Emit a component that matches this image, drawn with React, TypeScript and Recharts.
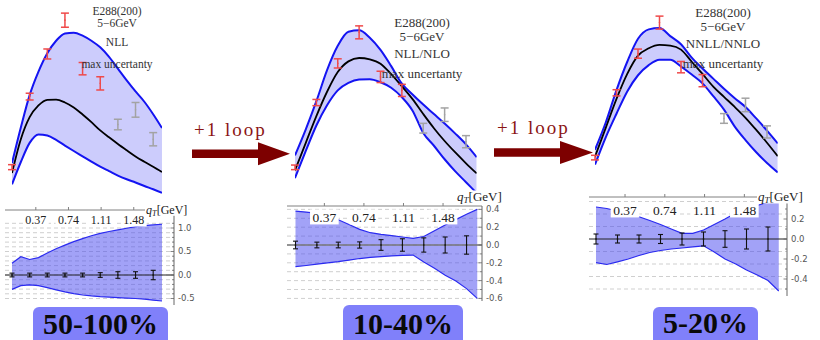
import React from 'react';
import {
  ComposedChart, Area, Line, Scatter, ErrorBar, XAxis, YAxis, CartesianGrid, ReferenceLine,
} from 'recharts';

// ---------------- data ----------------
const qGrid = [0.1, 0.2, 0.3, 0.4, 0.5, 0.6, 0.7, 0.8, 0.9, 1.0, 1.1, 1.2, 1.3, 1.4, 1.5, 1.6, 1.7, 1.8];
const qData = [0.1, 0.3, 0.5, 0.7, 0.9, 1.1, 1.3, 1.5, 1.7];
const e288Values = [0.19, 0.67, 0.96, 1.19, 0.86, 0.76, 0.48, 0.58, 0.38];
const e288Errors = [0.017, 0.023, 0.034, 0.048, 0.042, 0.045, 0.036, 0.05, 0.045];
const fittedCount = 6;

const nllUpper = [0.218, 0.46, 0.68, 0.84, 0.965, 1.05, 1.1, 1.105, 1.085, 1.05, 1.005, 0.94, 0.86, 0.78, 0.705, 0.635, 0.55, 0.456];
const nllCentral = [0.15, 0.38, 0.53, 0.61, 0.648, 0.65, 0.63, 0.596, 0.548, 0.496, 0.44, 0.393, 0.348, 0.305, 0.263, 0.227, 0.193, 0.157];
const nllLower = [0.073, 0.225, 0.355, 0.413, 0.405, 0.375, 0.337, 0.3, 0.264, 0.228, 0.193, 0.163, 0.133, 0.108, 0.086, 0.062, 0.04, 0.016];

const nloUpper = [0.279, 0.47, 0.68, 0.91, 1.09, 1.195, 1.205, 1.15, 1.06, 0.94, 0.81, 0.73, 0.655, 0.585, 0.515, 0.44, 0.36, 0.265];
const nloCentral = [0.168, 0.37, 0.57, 0.75, 0.896, 0.975, 1.0, 0.99, 0.958, 0.88, 0.79, 0.695, 0.585, 0.48, 0.385, 0.3, 0.22, 0.145];
const nloLower = [0.111, 0.31, 0.5, 0.65, 0.76, 0.815, 0.84, 0.843, 0.82, 0.78, 0.71, 0.61, 0.445, 0.35, 0.25, 0.16, 0.08, 0.0];

const nnloUpper = [0.249, 0.45, 0.69, 0.9, 1.07, 1.14, 1.15, 1.09, 1.03, 0.93, 0.85, 0.775, 0.7, 0.63, 0.565, 0.48, 0.39, 0.295];
const nnloCentral = [0.197, 0.41, 0.625, 0.81, 0.945, 1.0, 1.025, 1.02, 0.99, 0.9, 0.81, 0.716, 0.64, 0.565, 0.485, 0.395, 0.3, 0.2];
const nnloLower = [0.138, 0.34, 0.515, 0.68, 0.8, 0.875, 0.915, 0.915, 0.865, 0.805, 0.74, 0.645, 0.545, 0.42, 0.32, 0.23, 0.15, 0.08];

// relative uncertainty (bottom panels)
const nllRatioUpper = [0.25, 0.39, 0.33, 0.37, 0.47, 0.56, 0.635, 0.71, 0.775, 0.835, 0.887, 0.925, 0.96, 0.995, 1.03, 1.05, 1.065, 1.08];
const nllRatioLower = [-0.305, -0.225, -0.21, -0.225, -0.27, -0.315, -0.36, -0.395, -0.425, -0.445, -0.46, -0.47, -0.48, -0.49, -0.5, -0.515, -0.535, -0.553];
const nllRatioErr = [0.04, 0.04, 0.04, 0.04, 0.04, 0.05, 0.07, 0.07, 0.1];

const nloRatioUpper = [0.38, 0.37, 0.355, 0.32, 0.283, 0.23, 0.175, 0.138, 0.12, 0.105, 0.09, 0.075, 0.095, 0.16, 0.225, 0.285, 0.345, 0.4];
const nloRatioLower = [-0.243, -0.23, -0.215, -0.2, -0.187, -0.17, -0.152, -0.14, -0.13, -0.123, -0.117, -0.113, -0.19, -0.262, -0.34, -0.405, -0.49, -0.6];
const nloRatioErr = [0.043, 0.032, 0.032, 0.035, 0.06, 0.07, 0.08, 0.09, 0.103];

const nnloRatioUpper = [0.32, 0.305, 0.28, 0.255, 0.223, 0.185, 0.145, 0.1, 0.057, 0.057, 0.09, 0.145, 0.2, 0.26, 0.3, 0.335, 0.37, 0.405];
const nnloRatioLower = [-0.237, -0.255, -0.228, -0.2, -0.165, -0.135, -0.115, -0.1, -0.09, -0.078, -0.068, -0.13, -0.2, -0.25, -0.31, -0.36, -0.415, -0.52];
const nnloRatioErr = [0.05, 0.04, 0.04, 0.045, 0.06, 0.07, 0.083, 0.1, 0.12];

const qTicks = [0.37, 0.74, 1.11, 1.48];
const nllTickLabels = [-0.5, 0, 0.5, 1.0];
const nllMinorTicks = [-0.5, -0.4, -0.3, -0.2, -0.1, 0, 0.1, 0.2, 0.3, 0.4, 0.5, 0.6, 0.7, 0.8, 0.9, 1.0, 1.1];
const nloTickLabels = [-0.6, -0.4, -0.2, 0, 0.2, 0.4];
const nloMinorTicks = [-0.6, -0.5, -0.4, -0.3, -0.2, -0.1, 0, 0.1, 0.2, 0.3, 0.4];
const nnloTickLabels = [-0.4, -0.2, 0, 0.2];
const nnloMinorTicks = [-0.5, -0.4, -0.3, -0.2, -0.1, 0, 0.1, 0.2, 0.3];
const nnloGridValues = [-0.5, -0.375, -0.25, -0.125, 0.125, 0.25, 0.375];

const datasetLabel = 'E288(200)';
const energyLabel = '5\u22126GeV';
const orderLabels = ['NLL', 'NLL/NLO', 'NNLL/NNLO'];
const uncertaintyLabel = 'max uncertanty';
const accuracyLabels = ['50-100%', '10-40%', '5-20%'];
const loopLabel = '+1 loop';

// ---------------- styles ----------------
const SERIF = '"Liberation Serif", "Times New Roman", serif';
const SANS = '"DejaVu Sans", "Liberation Sans", sans-serif';
const RED = '#ef4a4a';
const GRAY = '#a3a3a3';
const EDGE = '#1414f2';
const ARROW = '#7d0000';

const M = 10;

function tinyDot(color: string) {
  return (props: any) => <circle cx={props.cx} cy={props.cy} r={0.8} fill={color} />;
}

type TopProps = {
  x0: number; x1: number; yTop: number; yBot: number; yDom: number[];
  upper: number[]; central: number[]; lower: number[];
};

function TopPanel({ x0, x1, yTop, yBot, yDom, upper, central, lower }: TopProps) {
  const data = qGrid.map((q, i) => ({ q, band: [lower[i], upper[i]], up: upper[i], mid: central[i], lo: lower[i] }));
  const pts = qData.map((q, i) => ({ q, v: e288Values[i], err: e288Errors[i] }));
  const red = pts.slice(0, fittedCount);
  const gray = pts.slice(fittedCount);
  const w = x1 - x0;
  const h = yBot - yTop;
  return (
    <div style={{ position: 'absolute', left: x0 - M, top: yTop - M }}>
      <ComposedChart width={w + 2 * M} height={h + 2 * M} data={data} margin={{ top: M, right: M, bottom: M, left: M }}>
        <XAxis dataKey="q" type="number" domain={[0.1, 1.8]} hide allowDataOverflow />
        <YAxis type="number" domain={yDom} hide allowDataOverflow />
        <Area dataKey="band" type="monotone" fill="#0000f0" fillOpacity={0.2} stroke="none" isAnimationActive={false} />
        <Line dataKey="up" type="monotone" stroke={EDGE} strokeWidth={2} dot={false} activeDot={false} isAnimationActive={false} />
        <Line dataKey="lo" type="monotone" stroke={EDGE} strokeWidth={2} dot={false} activeDot={false} isAnimationActive={false} />
        <Line dataKey="mid" type="monotone" stroke="#000" strokeWidth={1.8} dot={false} activeDot={false} isAnimationActive={false} />
        <Scatter data={red} dataKey="v" shape={tinyDot(RED)} isAnimationActive={false}>
          <ErrorBar dataKey="err" direction="y" width={4} stroke={RED} strokeWidth={1.5} />
        </Scatter>
        <Scatter data={gray} dataKey="v" shape={tinyDot(GRAY)} isAnimationActive={false}>
          <ErrorBar dataKey="err" direction="y" width={4} stroke={GRAY} strokeWidth={1.5} />
        </Scatter>
      </ComposedChart>
    </div>
  );
}

// chart margins for the ratio panels; axes take 1px each
const BM = { top: 7, right: 29, bottom: 6, left: 4 };
const AX = 1;

function makeTopTick(labelDy: number, fontSize: number) {
  return (props: any) => {
    const { x, payload } = props;
    const y = BM.top + AX + labelDy;
    const text = Number(payload.value).toFixed(2);
    const w = fontSize * 1.9;
    return (
      <g>
        <rect x={x - w / 2 - 1.5} y={y - fontSize * 0.55} width={w + 3} height={fontSize * 1.1} fill="#fff" />
        <text x={x} y={y} dy="0.35em" textAnchor="middle" fontSize={fontSize} fontFamily={SERIF} fill="#222">{text}</text>
      </g>
    );
  };
}

function makeRightTick(majors: number[], axisX: number) {
  return (props: any) => {
    const { y, payload } = props;
    const v = Number(payload.value);
    const isMajor = majors.some((m) => Math.abs(m - v) < 1e-6);
    return (
      <g>
        <line x1={axisX - (isMajor ? 3.5 : 2)} x2={axisX} y1={y} y2={y} stroke="#666" strokeWidth={0.8} />
        {isMajor && (
          <text x={axisX + 4} y={y} dy="0.35em" fontSize={8.5} fontFamily={SANS} fill="#555">{v.toFixed(1)}</text>
        )}
      </g>
    );
  };
}

type RatioProps = {
  x0: number; x1: number; yTop: number; yBot: number; xDom: number[]; yDom: number[];
  upper: number[]; lower: number[]; err: number[];
  majors: number[]; minors: number[]; grid: number[];
  labelDy: number; tickFont: number; zeroColor: string; zeroWidth: number; zeroEnd: number;
};

function RatioPanel(p: RatioProps) {
  const data = qGrid.map((q, i) => ({ q, band: [p.lower[i], p.upper[i]], up: p.upper[i], lo: p.lower[i] }));
  const pts = qData.map((q, i) => ({ q, v: 0, err: p.err[i] }));
  const w = p.x1 - p.x0;
  const h = p.yBot - p.yTop;
  const W = w + BM.left + BM.right + AX;
  const H = h + BM.top + BM.bottom + AX;
  const axisX = BM.left + w;
  return (
    <div style={{ position: 'absolute', left: p.x0 - BM.left, top: p.yTop - BM.top - AX }}>
      <ComposedChart width={W} height={H} data={data} margin={BM}>
        <CartesianGrid vertical={false} horizontalValues={p.grid} stroke="#cfcfcf" strokeDasharray="4 3" />
        <Area dataKey="band" type="linear" fill="#4646f0" fillOpacity={0.5} stroke="none" isAnimationActive={false} />
        <Line dataKey="up" type="linear" stroke="#2a2af0" strokeWidth={1.2} dot={false} activeDot={false} isAnimationActive={false} />
        <Line dataKey="lo" type="linear" stroke="#2a2af0" strokeWidth={1.2} dot={false} activeDot={false} isAnimationActive={false} />
        <ReferenceLine
          segment={[{ x: p.xDom[0], y: 0 }, { x: p.zeroEnd, y: 0 }]}
          ifOverflow="visible"
          stroke={p.zeroColor}
          strokeWidth={p.zeroWidth}
        />
        <Scatter data={pts} dataKey="v" shape={tinyDot('#111')} isAnimationActive={false}>
          <ErrorBar dataKey="err" direction="y" width={2.5} stroke="#111" strokeWidth={1.1} />
        </Scatter>
        <XAxis
          dataKey="q" type="number" orientation="top" domain={p.xDom} ticks={qTicks} interval={0}
          height={AX} tickSize={3} allowDataOverflow
          axisLine={{ stroke: '#808080' }} tickLine={{ stroke: '#808080' }}
          tick={makeTopTick(p.labelDy, p.tickFont)}
        />
        <YAxis
          type="number" orientation="right" domain={p.yDom} ticks={p.minors} interval={0}
          width={AX} tickSize={0} tickMargin={0} allowDataOverflow
          axisLine={{ stroke: '#666' }} tickLine={false}
          tick={makeRightTick(p.majors, axisX)}
        />
      </ComposedChart>
    </div>
  );
}

const topLayouts = [
  { x0: 12, x1: 162, yTop: 3.9, yBot: 202.35, yDom: [-0.05, 1.3] },
  { x0: 295, x1: 476.7, yTop: 3.65, yBot: 199.4, yDom: [-0.05, 1.4] },
  { x0: 595, x1: 777.75, yTop: 1.4, yBot: 190.4, yDom: [-0.05, 1.35] },
];

const panelTexts = [
  { cx: 117, ys: [12, 23.5, 43, 65], fs: 11.5 },
  { cx: 422, ys: [22, 35.5, 53, 73], fs: 13 },
  { cx: 723, ys: [12, 25.5, 43, 63], fs: 13 },
];

const qtLabels = [
  { x: 145, y: 210, fs: 12 },
  { x: 456, y: 196.5, fs: 13 },
  { x: 757, y: 197, fs: 13 },
];

const boxes = [
  { left: 33, top: 307, width: 135, textTop: 2 },
  { left: 343, top: 305, width: 120, textTop: 4 },
  { left: 653, top: 307, width: 105, textTop: 1 },
];

const arrows = [
  { x0: 192, x1: 258, tip: 290, yc: 153.8, half: 4.3, headHalf: 11.5, textX: 194, textY: 120 },
  { x0: 494, x1: 560, tip: 593, yc: 152.5, half: 4.3, headHalf: 11.5, textX: 497, textY: 118 },
];

export default function App() {
  const tops = [
    { upper: nllUpper, central: nllCentral, lower: nllLower },
    { upper: nloUpper, central: nloCentral, lower: nloLower },
    { upper: nnloUpper, central: nnloCentral, lower: nnloLower },
  ];
  return (
    <div style={{ position: 'relative', width: 820, height: 340, overflow: 'hidden', background: '#fff', fontFamily: SERIF }}>
      <style>{'html,body{margin:0;padding:0;background:#fff}'}</style>

      {tops.map((t, i) => (
        <TopPanel key={'t' + i} {...topLayouts[i]} {...t} />
      ))}

      <RatioPanel
        x0={5} x1={174} yTop={210} yBot={305} xDom={[0.0207, 1.936]} yDom={[-0.638, 1.383]}
        upper={nllRatioUpper} lower={nllRatioLower} err={nllRatioErr}
        majors={nllTickLabels} minors={nllMinorTicks} grid={nllMinorTicks}
        labelDy={10} tickFont={12} zeroColor="#222" zeroWidth={1} zeroEnd={1.936}
      />
      <RatioPanel
        x0={287} x1={482} yTop={206} yBot={301} xDom={[0.0205, 1.8445]} yDom={[-0.629, 0.438]}
        upper={nloRatioUpper} lower={nloRatioLower} err={nloRatioErr}
        majors={nloTickLabels} minors={nloMinorTicks} grid={nloMinorTicks}
        labelDy={11} tickFont={13.5} zeroColor="#777" zeroWidth={1.5} zeroEnd={1.8445}
      />
      <RatioPanel
        x0={589} x1={787} yTop={197} yBot={296} xDom={[0.0349, 1.8767]} yDom={[-0.57, 0.42]}
        upper={nnloRatioUpper} lower={nnloRatioLower} err={nnloRatioErr}
        majors={nnloTickLabels} minors={nnloMinorTicks} grid={nnloGridValues}
        labelDy={13} tickFont={13.5} zeroColor="#222" zeroWidth={1} zeroEnd={1.8767}
      />

      {panelTexts.map((pt, i) =>
        [datasetLabel, energyLabel, orderLabels[i], uncertaintyLabel].map((s, j) => (
          <div
            key={'txt' + i + '-' + j}
            style={{
              position: 'absolute', left: pt.cx, top: pt.ys[j], transform: 'translate(-50%, -50%)',
              fontSize: pt.fs, lineHeight: 1, whiteSpace: 'nowrap', color: '#333', fontFamily: SERIF,
            }}
          >
            {s}
          </div>
        ))
      )}

      {qtLabels.map((l, i) => (
        <div
          key={'qt' + i}
          style={{
            position: 'absolute', left: l.x, top: l.y, transform: 'translateY(-50%)', background: '#fff',
            fontSize: l.fs, lineHeight: 1, whiteSpace: 'nowrap', color: '#222', fontFamily: SERIF, paddingLeft: 1,
          }}
        >
          <span style={{ fontStyle: 'italic' }}>q</span>
          <span style={{ fontSize: '0.7em', position: 'relative', top: '0.25em', fontStyle: 'italic' }}>T</span>
          [GeV]
        </div>
      ))}

      <svg style={{ position: 'absolute', left: 0, top: 0 }} width={820} height={340}>
        {arrows.map((a, i) => (
          <polygon
            key={'ar' + i}
            points={[
              `${a.x0},${a.yc - a.half}`, `${a.x1},${a.yc - a.half}`, `${a.x1},${a.yc - a.headHalf}`,
              `${a.tip},${a.yc}`, `${a.x1},${a.yc + a.headHalf}`, `${a.x1},${a.yc + a.half}`, `${a.x0},${a.yc + a.half}`,
            ].join(' ')}
            fill={ARROW}
          />
        ))}
      </svg>
      {arrows.map((a, i) => (
        <div
          key={'lt' + i}
          style={{
            position: 'absolute', left: a.textX, top: a.textY, fontSize: 19, lineHeight: '19px', letterSpacing: 2,
            color: '#8a1414', whiteSpace: 'nowrap', fontFamily: SERIF,
          }}
        >
          {loopLabel}
        </div>
      ))}

      {boxes.map((b, i) => (
        <div
          key={'bx' + i}
          style={{
            position: 'absolute', left: b.left, top: b.top, width: b.width, height: 45,
            background: '#8080fa', borderRadius: 6,
          }}
        >
          <div
            style={{
              position: 'absolute', left: 0, right: 0, top: b.textTop, textAlign: 'center',
              fontSize: 30, lineHeight: '30px', fontWeight: 'bold', color: '#0a0a0a', fontFamily: SERIF,
            }}
          >
            {accuracyLabels[i]}
          </div>
        </div>
      ))}
    </div>
  );
}
